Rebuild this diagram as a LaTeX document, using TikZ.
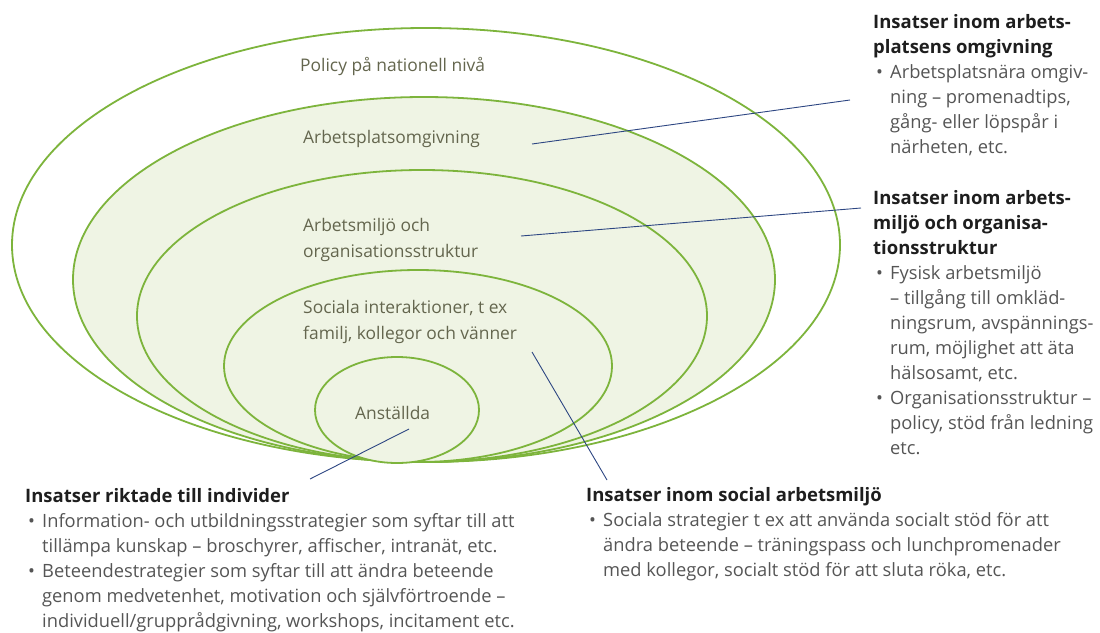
\documentclass[tikz,border=0pt]{standalone}
\usepackage{fontspec}
\setmainfont{Open Sans}
\usepackage{tikz}
\usetikzlibrary{calc}

\definecolor{ringgreen}{RGB}{125,180,60}
\definecolor{ringfill}{RGB}{239,244,228}
\definecolor{leadblue}{RGB}{45,70,130}
\definecolor{labelgrey}{RGB}{100,102,78}
\definecolor{bodygrey}{RGB}{85,85,85}
\definecolor{headblack}{RGB}{30,30,30}

\newcommand{\itm}{\makebox[17pt][l]{\hspace{3pt}\textbullet}}
\newcommand{\cnt}{\hspace*{17pt}}
\newcommand{\hd}[1]{{\fontsize{18.5}{25}\selectfont\bfseries\color{headblack}#1}}

\begin{document}
\begin{tikzpicture}[x=1pt,y=-1pt,
    ring/.style={draw=ringgreen,line width=1.8pt,fill=ringfill},
    ringlabel/.style={anchor=north west,inner sep=0pt,align=left,text=labelgrey,font=\fontsize{17.4}{25.5}\selectfont},
    block/.style={anchor=north west,inner sep=0pt,align=left,text=bodygrey,font=\fontsize{18.3}{25}\selectfont},
    leader/.style={draw=leadblue,line width=0.9pt}]

  \useasboundingbox (0,0) rectangle (1100,632);

  \draw[ring,fill=white] (426,245) ellipse [x radius=414pt,y radius=217pt];
  \foreach \cx/\cy/\rx/\ry in {424/279.5/351/182.5,422/316/285/146,418/366/194/96,397/410/82/53}
    {\draw[ring] (\cx,\cy) ellipse [x radius=\rx pt,y radius=\ry pt];};

  \node[ringlabel] (pol) at (300,53.5) {\strut Policy på nationell nivå};
  \node[ringlabel] (omg) at (303,125.5) {\strut Arbetsplatsomgivning};
  \node[ringlabel] (org) at (303,213.5) {\strut Arbetsmiljö och\\organisationsstruktur};
  \node[ringlabel] (soc) at (303,295.5) {\strut Sociala interaktioner, t ex\\familj, kollegor och vänner};
  \node[ringlabel] (ans) at (355,401.5) {\strut Anställda};

  \node[block] (omgblock) at (873,10.5) {%
    \hd{\strut Insatser inom arbets-}\\
    \hd{platsens omgivning}\\
    \itm Arbetsplatsnära omgiv-\\
    \cnt ning – promenadtips,\\
    \cnt gång- eller löpspår i\\
    \cnt närheten, etc.};

  \node[block] (orgblock) at (873,186.5) {%
    \hd{\strut Insatser inom arbets-}\\
    \hd{miljö och organisa-}\\
    \hd{tionsstruktur}\\
    \itm Fysisk arbetsmiljö\\
    \cnt – tillgång till omkläd-\\
    \cnt ningsrum, avspännings-\\
    \cnt rum, möjlighet att äta\\
    \cnt hälsosamt, etc.\\
    \itm Organisationsstruktur –\\
    \cnt policy, stöd från ledning\\
    \cnt etc.};

  \node[block] (indblock) at (25,484.5) {%
    \hd{\strut Insatser riktade till individer}\\
    \itm Information- och utbildningsstrategier som syftar till att\\
    \cnt tillämpa kunskap – broschyrer, affischer, intranät, etc.\\
    \itm Beteendestrategier som syftar till att ändra beteende\\
    \cnt genom medvetenhet, motivation och självförtroende –\\
    \cnt individuell/grupprådgivning, workshops, incitament etc.};

  \node[block] (socblock) at (586,483.5) {%
    \hd{\strut Insatser inom social arbetsmiljö}\\
    \itm Sociala strategier t ex att använda socialt stöd för att\\
    \cnt ändra beteende – träningspass och lunchpromenader\\
    \cnt med kollegor, socialt stöd för att sluta röka, etc.};

  \coordinate (omgend) at (532,144);
  \coordinate (omgtip) at (850,100);
  \coordinate (orgend) at (521,236);
  \coordinate (orgtip) at (861,208);
  \coordinate (socend) at (532,352);
  \coordinate (soctip) at (607,480);
  \coordinate (ansend) at (409,429);
  \coordinate (anstip) at (310,479);

  \path (omgend) edge[leader] (omgtip)
        (orgend) edge[leader] (orgtip)
        (socend) edge[leader] (soctip)
        (ansend) edge[leader] (anstip);
\end{tikzpicture}
\end{document}
